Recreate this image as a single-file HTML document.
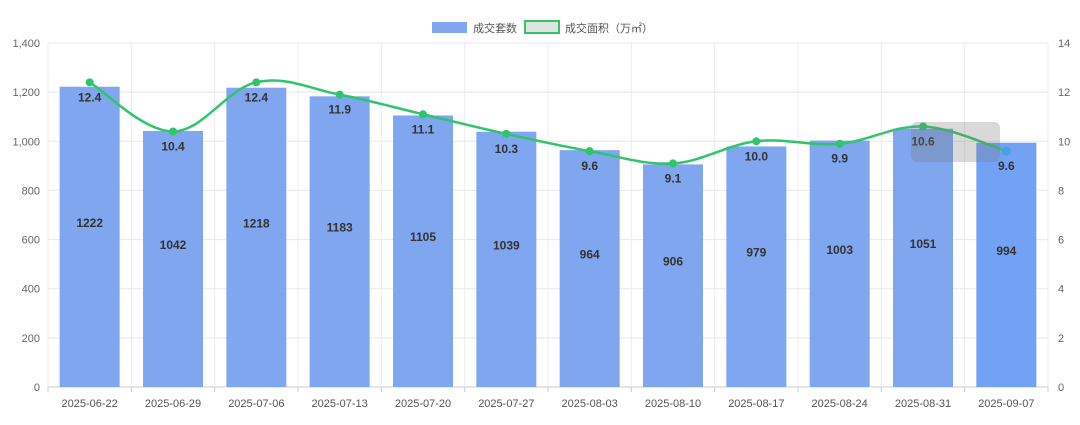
<!DOCTYPE html>
<html><head><meta charset="utf-8">
<style>
html,body{margin:0;padding:0;background:#fff;}
svg{display:block;font-family:"Liberation Sans","Noto Sans CJK SC",sans-serif;}
</style></head>
<body>
<svg id="c" width="1080" height="425" viewBox="0 0 1080 425" xmlns="http://www.w3.org/2000/svg">
<g id="grid"></g>
<g id="bars"></g>
<g id="line"></g>
<g id="labels"></g>
<!-- legend -->
<rect x="432" y="22" width="35" height="11" fill="#7fa6ee"/>
<text x="473" y="32" font-size="11" fill="#555">成交套数</text>
<rect x="525" y="21" width="34" height="12" fill="#dde3dd" stroke="#2fc56a" stroke-width="2"/>
<text x="565" y="32" font-size="11" fill="#555">成交面积（万㎡）</text>
</svg>
<script>
const svg=document.getElementById('c');
const NS='http://www.w3.org/2000/svg';
function el(p,t,a,txt){const e=document.createElementNS(NS,t);for(const k in a)e.setAttribute(k,a[k]);if(txt!==undefined)e.textContent=txt;document.getElementById(p).appendChild(e);return e;}
const L=48,R=1048,T=43,B=387,H=B-T;
const dates=['2025-06-22','2025-06-29','2025-07-06','2025-07-13','2025-07-20','2025-07-27','2025-08-03','2025-08-10','2025-08-17','2025-08-24','2025-08-31','2025-09-07'];
const cnt=[1222,1042,1218,1183,1105,1039,964,906,979,1003,1051,994];
const area=[12.4,10.4,12.4,11.9,11.1,10.3,9.6,9.1,10.0,9.9,10.6,9.6];
const cw=(R-L)/12;
for(let i=0;i<=7;i++){const y=B-i*H/7;
 el('grid','line',{x1:L,x2:R,y1:y,y2:y,stroke:i==0?'#ccc':'#e8e8e8','stroke-width':1});
 el('grid','text',{x:L-8,y:y+4,'text-anchor':'end','font-size':11,fill:'#666'},(i*200).toLocaleString('en-US'));
 el('grid','text',{x:R+10,y:y+4,'font-size':11,fill:'#666'},String(i*2));
}
for(let i=0;i<=12;i++){const x=L+i*cw;
 el('grid','line',{x1:x,x2:x,y1:T,y2:B,stroke:'#ececec'});
 el('grid','line',{x1:x,x2:x,y1:B,y2:B+5,stroke:'#ccc'});
}
const pts=[];
for(let i=0;i<12;i++){
 const cx=L+cw/2+i*cw;
 const top=B-cnt[i]/1400*H;
 el('bars','rect',{x:cx-30,y:top,width:60,height:B-top,fill:i==11?'#73a2f5':'#7fa6ee'});
 el('grid','text',{x:cx,y:B+20,'text-anchor':'middle','font-size':11,fill:'#555'},dates[i]);
 el('labels','text',{x:cx,y:(top+B)/2-10,'text-anchor':'middle','font-size':12,'font-weight':'bold',fill:'#333'},String(cnt[i]));
 const py=B-area[i]/14*H;pts.push([cx,py]);
 el('labels','text',{x:cx,y:py+19,'text-anchor':'middle','font-size':12,'font-weight':'bold',fill:'#333'},area[i].toFixed(1));
}
let d='M'+pts[0][0]+','+pts[0][1];
const t=0.18;
for(let i=0;i<pts.length-1;i++){
 const p0=pts[Math.max(0,i-1)],p1=pts[i],p2=pts[i+1],p3=pts[Math.min(pts.length-1,i+2)];
 const c1=[p1[0]+(p2[0]-p0[0])*t,p1[1]+(p2[1]-p0[1])*t];
 const c2=[p2[0]-(p3[0]-p1[0])*t,p2[1]-(p3[1]-p1[1])*t];
 d+=` C${c1[0]},${c1[1]} ${c2[0]},${c2[1]} ${p2[0]},${p2[1]}`;
}
el('line','path',{d:d,fill:'none',stroke:'#2fc56a','stroke-width':2.5});
pts.forEach((p,i)=>el('line','circle',{cx:p[0],cy:p[1],r:i==11?4.5:4,fill:i==11?'#4aa0e0':'#2fc56a'}));
// tooltip ghost
el('labels','rect',{x:911,y:122,width:89,height:40,rx:6,fill:'rgba(120,120,120,0.28)'});
</script>
</body></html>
